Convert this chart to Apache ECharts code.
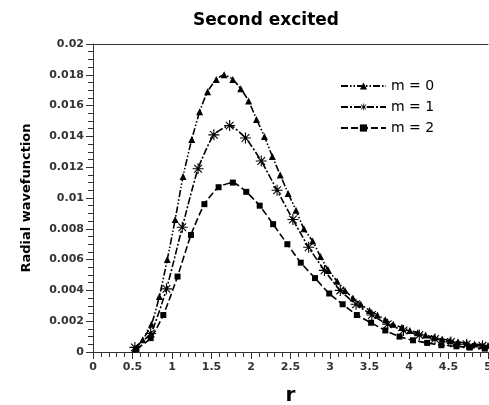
<!DOCTYPE html>
<html><head><meta charset="utf-8">
<script src="https://cdn.jsdelivr.net/npm/echarts@6/dist/echarts.min.js"></script>
<style>html,body{margin:0;padding:0;background:#fff}#c{width:489px;height:405px}</style>
</head><body><div id="c"></div>
<script>
var r0 = [0.53,0.63,0.74,0.84,0.94,1.04,1.14,1.25,1.35,1.45,1.56,1.66,1.77,1.87,1.97,2.07,2.17,2.27,2.37,2.47,2.57,2.67,2.78,2.88,2.98,3.09,3.19,3.29,3.39,3.5,3.6,3.7,3.8,3.91,4.01,4.11,4.21,4.32,4.42,4.52,4.62,4.73,4.83,4.93,5.0];
var m0 = [0.0002,0.0008,0.0018,0.0036,0.006,0.0086,0.0114,0.0138,0.0156,0.0169,0.0177,0.0180,0.0177,0.0171,0.0163,0.0151,0.0140,0.0127,0.0115,0.0103,0.0092,0.0080,0.0072,0.0062,0.0053,0.0046,0.0040,0.0035,0.0031,0.0027,0.0024,0.0021,0.0018,0.0016,0.0014,0.00125,0.0011,0.00095,0.00085,0.00075,0.00066,0.00058,0.00052,0.00046,0.00042];
var r1 = [0.53,0.73,0.93,1.13,1.33,1.53,1.73,1.93,2.13,2.33,2.53,2.73,2.93,3.13,3.33,3.53,3.73,3.93,4.13,4.33,4.53,4.73,4.93];
var m1 = [0.0003,0.0012,0.0041,0.0081,0.0119,0.0141,0.0147,0.0139,0.0124,0.0105,0.0086,0.0068,0.0053,0.0040,0.0031,0.0024,0.0018,0.0014,0.0011,0.00085,0.00065,0.0005,0.0004];
var r2 = [0.55,0.73,0.89,1.07,1.24,1.41,1.59,1.77,1.94,2.11,2.28,2.46,2.63,2.81,2.99,3.16,3.34,3.52,3.70,3.88,4.05,4.23,4.41,4.60,4.77,4.96];
var m2 = [0.0002,0.0009,0.0024,0.0049,0.0076,0.0096,0.0107,0.0110,0.0104,0.0095,0.0083,0.0070,0.0058,0.0048,0.0038,0.0031,0.0024,0.0019,0.0014,0.0010,0.00076,0.00059,0.00044,0.00037,0.00029,0.00022];
var names = ['m = 0','m = 1','m = 2'];

function pairs(xs, ys){ return xs.map(function(x,i){return [x, ys[i]];}); }
var FONT = 'DejaVu Sans';
var chart = echarts.init(document.getElementById('c'), null, {renderer:'canvas'});
var star = 'path://M4.5,0L5.5,0L5.5,10L4.5,10Z M0,4.5L10,4.5L10,5.5L0,5.5Z M1.85,1.15L8.85,8.15L8.15,8.85L1.15,1.85Z M1.15,8.15L8.15,1.15L8.85,1.85L1.85,8.85Z';
chart.setOption({
  animation:false,
  backgroundColor:'#fff',
  title:{text:'Second excited', left:261, top:7, textAlign:'center',
    textStyle:{fontFamily:FONT, fontWeight:'bold', fontSize:17, color:'#000'}},
  grid:{left:93, right:1, top:44, bottom:53, outerBoundsMode:'none', containLabel:false},
  legend:{orient:'vertical', left:335, top:74, itemWidth:45, itemHeight:9, itemGap:7,
    textStyle:{fontFamily:FONT, fontSize:14, color:'#000', lineHeight:14},
    data:names},
  xAxis:[{type:'value', min:0, max:5, interval:0.5, name:'r', nameLocation:'middle', nameGap:34,
    nameTextStyle:{fontFamily:FONT, fontWeight:'bold', fontSize:20, color:'#000'},
    axisLine:{lineStyle:{color:'#333', width:1}},
    axisTick:{length:7, lineStyle:{color:'#333'}},
    minorTick:{show:true, splitNumber:5, length:5, lineStyle:{color:'#333'}},
    axisLabel:{fontFamily:FONT, fontWeight:'bold', fontSize:11, color:'#333', margin:10},
    splitLine:{show:false}},
   {type:'value', position:'top', min:0, max:5, axisLine:{show:true, lineStyle:{color:'#333'}},
    axisTick:{show:false}, axisLabel:{show:false}, splitLine:{show:false}}],
  yAxis:{type:'value', min:0, max:0.02, interval:0.002, name:'Radial wavefunction', nameLocation:'middle', nameGap:60,
    nameTextStyle:{fontFamily:FONT, fontWeight:'bold', fontSize:13, color:'#000'},
    axisLine:{show:true, lineStyle:{color:'#333', width:1}},
    axisTick:{show:true, length:7, lineStyle:{color:'#333'}},
    minorTick:{show:true, splitNumber:4, length:5, lineStyle:{color:'#333'}},
    axisLabel:{fontFamily:FONT, fontWeight:'bold', fontSize:11, color:'#333', margin:9},
    splitLine:{show:false}},
  series:[
    {name:names[0], type:'line', data:pairs(r0,m0), symbol:'triangle', symbolSize:7, smooth:0.2,
     lineStyle:{color:'#000', width:1.6, type:[7,2,1.5,2,1.5,2]}, itemStyle:{color:'#000'}},
    {name:names[1], type:'line', data:pairs(r1,m1), symbol:star, symbolSize:11, smooth:0.2,
     lineStyle:{color:'#000', width:1.6, type:[7,2,2,2]}, itemStyle:{color:'#000'}},
    {name:names[2], type:'line', data:pairs(r2,m2), symbol:'rect', symbolSize:6, smooth:0.2,
     lineStyle:{color:'#000', width:1.6, type:[7,3]}, itemStyle:{color:'#000'}}
  ]
});
</script></body></html>
